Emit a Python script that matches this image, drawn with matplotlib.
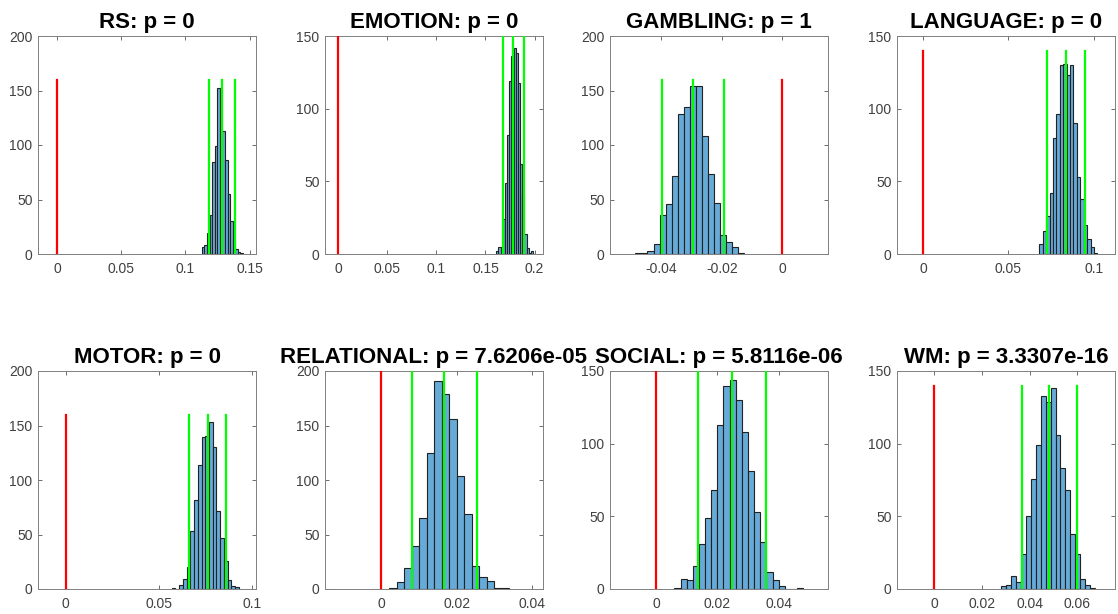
import numpy as np
import matplotlib
matplotlib.use('Agg')
import matplotlib.pyplot as plt
from matplotlib.ticker import FuncFormatter

plt.rcParams['font.family'] = ['Liberation Sans', 'DejaVu Sans']

# permutation histograms, one per task
titles = ['RS: p = 0', 'EMOTION: p = 0', 'GAMBLING: p = 1', 'LANGUAGE: p = 0',
          'MOTOR: p = 0', 'RELATIONAL: p = 7.6206e-05', 'SOCIAL: p = 5.8116e-06',
          'WM: p = 3.3307e-16']

rs_counts = [6, 8, 19, 36, 84, 99, 152, 152, 113, 86, 55, 30, 14, 5, 2, 1]
emotion_counts = [2, 5, 5, 24, 49, 82, 119, 136, 142, 138, 118, 62, 40, 14, 4, 1, 2]
gambling_counts = [1, 1, 3, 9, 36, 46, 72, 128, 135, 154, 154, 108, 73, 47, 17, 11, 6, 1]
language_counts = [7, 16, 26, 42, 80, 96, 130, 131, 123, 130, 90, 53, 38, 20, 10, 5, 1]
motor_counts = [1, 0, 4, 9, 20, 53, 82, 114, 139, 140, 153, 130, 72, 47, 26, 8, 3, 2]
relational_counts = [1, 6, 19, 39, 65, 125, 191, 179, 156, 104, 69, 21, 11, 7, 1, 1]
social_counts = [1, 7, 6, 16, 31, 49, 68, 113, 140, 144, 130, 108, 81, 53, 32, 12, 6, 2, 0, 0, 1]
wm_counts = [2, 3, 9, 5, 24, 50, 76, 99, 133, 129, 138, 106, 83, 68, 38, 24, 7, 3, 1]

all_counts = [rs_counts, emotion_counts, gambling_counts, language_counts,
              motor_counts, relational_counts, social_counts, wm_counts]
bin_starts = [0.1128, 0.161, -0.0486, 0.068, 0.057, 0.002, 0.006, 0.0282]
bin_widths = [0.002, 0.0022, 0.002, 0.002, 0.002, 0.002, 0.002, 0.00206]

# 95% CI bounds and mean (green), null value (red)
ci_low = [0.1183, 0.1678, -0.0398, 0.0724, 0.0662, 0.0081, 0.0137, 0.0369]
ci_mid = [0.1284, 0.1785, -0.0296, 0.0837, 0.0763, 0.0167, 0.0248, 0.0483]
ci_high = [0.1383, 0.1895, -0.0194, 0.0948, 0.0862, 0.0254, 0.0359, 0.0599]
null_value = 0
line_heights = [160, 150, 160, 140, 160, 200, 150, 140]

xlims = [(-0.015, 0.155), (-0.0134, 0.2086), (-0.057, 0.0151), (-0.0152, 0.1123),
         (-0.0149, 0.1023), (-0.015, 0.0429), (-0.015, 0.0561), (-0.0156, 0.0758)]
ymaxs = [200, 150, 200, 150, 200, 200, 150, 150]
xticks = [[0, 0.05, 0.1, 0.15], [0, 0.05, 0.1, 0.15, 0.2], [-0.04, -0.02, 0],
          [0, 0.05, 0.1], [0, 0.05, 0.1], [0, 0.02, 0.04], [0, 0.02, 0.04],
          [0, 0.02, 0.04, 0.06]]


def fmt(v, pos):
    v = round(v, 6)
    if v == 0:
        return '0'
    return '%g' % v


fig = plt.figure(figsize=(11.18, 6.14), dpi=100)
W, H = 1118.0, 614.0
lefts = [38, 325, 610, 897]
tops = [36, 371]
ax_w, ax_h = 218, 218

for i in range(8):
    row, col = divmod(i, 4)
    ax = fig.add_axes([lefts[col] / W, 1 - (tops[row] + ax_h) / H, ax_w / W, ax_h / H])

    counts = all_counts[i]
    edges = bin_starts[i] + bin_widths[i] * np.arange(len(counts))
    ax.bar(edges, counts, width=bin_widths[i], align='edge',
           facecolor='#66AAD7', edgecolor='#222222', linewidth=0.8, zorder=2)

    h = line_heights[i]
    ax.plot([null_value, null_value], [0, h], color='red', lw=1.6, zorder=3)
    for x in (ci_low[i], ci_mid[i], ci_high[i]):
        ax.plot([x, x], [0, h], color='#00ff00', lw=1.6, zorder=3)

    ax.set_xlim(*xlims[i])
    ax.set_ylim(0, ymaxs[i])
    ax.set_xticks(xticks[i])
    ax.set_yticks(np.arange(0, ymaxs[i] + 1, 50))
    ax.xaxis.set_major_formatter(FuncFormatter(fmt))

    ax.tick_params(direction='in', top=True, right=True, length=3, width=0.6,
                   colors='#555555', labelcolor='#404040', labelsize=10)
    ax.tick_params(axis='x', pad=6)
    ax.tick_params(axis='y', pad=4)
    for sp in ax.spines.values():
        sp.set_color('#808080')
        sp.set_linewidth(0.7)

    ax.set_title(titles[i], fontsize=16, fontweight='bold', pad=5.5)

fig.savefig('out.png', dpi=100)
